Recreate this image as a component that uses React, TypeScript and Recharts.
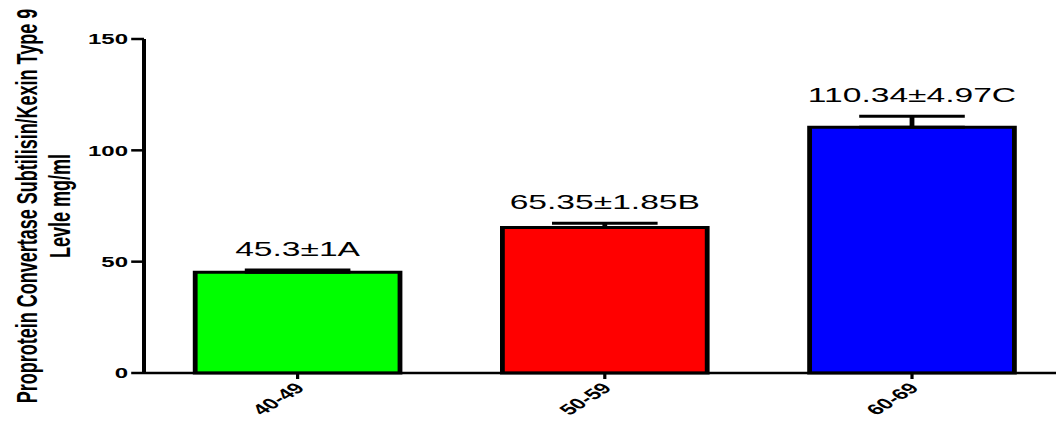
import React from 'react';
import { BarChart, Bar, XAxis, YAxis, Cell, ErrorBar, LabelList } from 'recharts';

const categories = ['40-49', '50-59', '60-69'];
const means = [45.3, 65.35, 110.34];
const sds = [1, 1.85, 4.97];
const letters = ['A', 'B', 'C'];
const yTicks = [0, 50, 100, 150];
const yTitle = ['Proprotein Convertase Subtilisin/Kexin Type 9', 'Levle mg/ml'];
const barColors = ['#00ff00', '#ff0000', '#0000ff'];

const data = categories.map((group, i) => ({
  group,
  mean: means[i],
  err: [0, sds[i]], // upper whisker only
  label: `${means[i]}±${sds[i]}${letters[i]}`,
}));

const FONT = 'Liberation Sans, Arial, Helvetica, sans-serif';
// the source picture is stretched sideways, so draw narrow and scale x
const SX = 1.6;
const W = 680;
const H = 421;

const YTitle = (props: any) => {
  const vb = props.viewBox || {};
  const cy = vb.height ? vb.y + vb.height / 2 : 206;
  return (
    <g>
      {yTitle.map((line, i) => {
        const x = 17 + i * 20.5;
        return (
          <text
            key={i}
            x={x}
            y={cy}
            transform={`rotate(-90, ${x}, ${cy})`}
            textAnchor="middle"
            dominantBaseline="central"
            fontFamily={FONT}
            fontWeight="bold"
            fontSize={18}
            fill="#000"
          >
            {line}
          </text>
        );
      })}
    </g>
  );
};

const XTick = ({ x, y, payload }: any) => (
  <text
    x={x + 5}
    y={y + 8}
    transform={`rotate(-45, ${x + 5}, ${y + 8})`}
    textAnchor="end"
    fontFamily={FONT}
    fontWeight="bold"
    fontSize={15}
    fill="#000"
  >
    {payload.value}
  </text>
);

const BarLabel = (props: any) => {
  const { x, y, width, height, value, index } = props;
  const pxPerUnit = height / means[index];
  const top = y - sds[index] * pxPerUnit;
  return (
    <text
      x={x + width / 2}
      y={top - 14}
      textAnchor="middle"
      fontFamily={FONT}
      fontSize={21}
      fill="#000"
    >
      {value}
    </text>
  );
};

export default function App() {
  return (
    <div style={{ position: 'absolute', left: 0, top: 0, width: 1056, height: H, overflow: 'hidden', background: '#fff' }}>
      <div style={{ width: W, height: H, transform: `scaleX(${SX})`, transformOrigin: '0 0' }}>
        <BarChart width={W} height={H} data={data} margin={{ top: 39, right: 14, left: 0, bottom: 0 }}>
          <XAxis
            dataKey="group"
            height={48}
            tick={<XTick />}
            tickSize={6}
            interval={0}
            axisLine={{ stroke: '#000', strokeWidth: 2.5 }}
            tickLine={{ stroke: '#000', strokeWidth: 2 }}
          />
          <YAxis
            width={90}
            domain={[0, 150]}
            ticks={yTicks}
            tickSize={8}
            tickMargin={2}
            axisLine={{ stroke: '#000', strokeWidth: 2.5 }}
            tickLine={{ stroke: '#000', strokeWidth: 2.5 }}
            tick={{ fill: '#000', fontFamily: FONT, fontWeight: 'bold', fontSize: 15 }}
            label={<YTitle />}
          />
          <Bar dataKey="mean" barSize={128} stroke="#000" strokeWidth={3} isAnimationActive={false}>
            {data.map((d, i) => (
              <Cell key={d.group} fill={barColors[i]} />
            ))}
            <ErrorBar dataKey="err" width={33} stroke="#000" strokeWidth={3} direction="y" />
            <LabelList dataKey="label" content={<BarLabel />} />
          </Bar>
        </BarChart>
      </div>
    </div>
  );
}
